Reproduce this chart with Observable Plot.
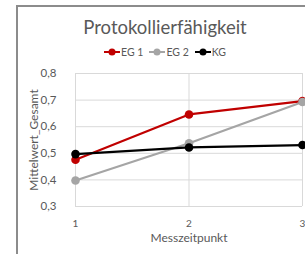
<!DOCTYPE html>
<html><head><meta charset="utf-8">
<script src="https://cdn.jsdelivr.net/npm/d3@7"></script>
<script src="https://cdn.jsdelivr.net/npm/@observablehq/plot@0.6"></script>
<style>
body{margin:0;background:#fff;font-family:Lato,"Open Sans",sans-serif;}
#wrap{position:relative;width:305px;height:254px;overflow:hidden;}
#frame{position:absolute;left:16px;top:5px;right:-5px;bottom:-5px;border-left:2px solid #8c8c8c;border-top:2px solid #8c8c8c;}
#title{position:absolute;left:0;width:330px;top:16px;text-align:center;font-size:18.5px;color:#595959;line-height:22px;}
#legend{position:absolute;left:0;width:330px;top:45px;text-align:center;font-size:10.5px;color:#595959;line-height:14px;}
#legend span.it{display:inline-flex;align-items:center;margin:0 3px;}
#legend svg{margin-right:1px;}
#chart{position:absolute;left:0;top:0;}
</style></head>
<body>
<div id="wrap">
<div id="frame"></div>
<div id="chart"></div>
<div id="title"></div>
<div id="legend"></div>
</div>
<script>
const title = "Protokollierfähigkeit";
const serien = ["EG 1", "EG 2", "KG"];
const farben = ["#c00000", "#a5a5a5", "#000000"];
const zeitpunkte = [1, 2, 3];
const eg1 = [0.476, 0.646, 0.696];
const eg2 = [0.398, 0.538, 0.693];
const kg = [0.497, 0.522, 0.531];
const yTicks = [0.3, 0.4, 0.5, 0.6, 0.7, 0.8];
const xLabel = "Messzeitpunkt";
const yLabel = "Mittelwert_Gesamt";

const werte = [eg1, eg2, kg];
const rows = [];
serien.forEach((s, i) => zeitpunkte.forEach((t, j) => rows.push({serie: s, t, v: werte[i][j]})));

const fmt = d => d3.format(".1f")(d).replace(".", ",");
const grid = "#d9d9d9";

const plot = Plot.plot({
  width: 305, height: 254,
  marginLeft: 75, marginRight: 3, marginTop: 73, marginBottom: 48,
  style: {fontFamily: "Lato, 'Open Sans', sans-serif", fontSize: "11px", color: "#595959", background: "transparent"},
  x: {domain: [1, 3], ticks: zeitpunkte, tickFormat: d => String(d), tickSize: 0, tickPadding: 13, label: null},
  y: {domain: [0.3, 0.8], ticks: yTicks, tickFormat: fmt, tickSize: 0, tickPadding: 19, label: null},
  color: {domain: serien, range: farben},
  marks: [
    Plot.gridY(yTicks, {stroke: grid, strokeOpacity: 1}),
    Plot.gridX(zeitpunkte, {stroke: grid, strokeOpacity: 1}),
    Plot.axisX({ticks: zeitpunkte, tickFormat: d => String(d), tickSize: 0, tickPadding: 13, fontSize: 10, label: null}),
    Plot.axisY({ticks: yTicks, tickFormat: fmt, tickSize: 0, tickPadding: 19, fontSize: 11.5, label: null}),
    Plot.text([xLabel], {frameAnchor: "bottom", textAnchor: "middle", dy: 35, fontSize: 12, fill: "#595959"}),
    Plot.text([yLabel], {frameAnchor: "left", textAnchor: "middle", dx: -41, rotate: -90, fontSize: 12, fill: "#595959"}),
    Plot.line(rows, {x: "t", y: "v", z: "serie", stroke: "serie", strokeWidth: 2.2}),
    Plot.dot(rows, {x: "t", y: "v", fill: "serie", r: 4.3})
  ]
});
document.getElementById("chart").append(plot);
document.getElementById("title").textContent = title;
const leg = document.getElementById("legend");
serien.forEach((s, i) => {
  const it = document.createElement("span");
  it.className = "it";
  it.innerHTML = `<svg width="16" height="10"><line x1="0" x2="16" y1="5" y2="5" stroke="${farben[i]}" stroke-width="2"/><circle cx="8" cy="5" r="3.5" fill="${farben[i]}"/></svg>`;
  it.append(document.createTextNode(s));
  leg.append(it);
});
</script>
</body></html>
